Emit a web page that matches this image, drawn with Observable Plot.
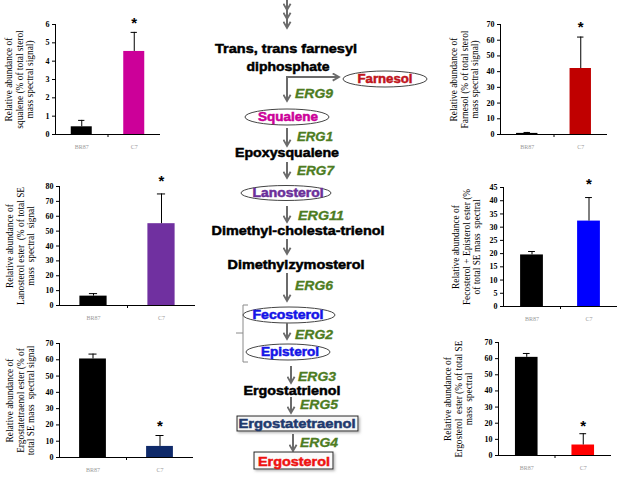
<!DOCTYPE html>
<html>
<head>
<meta charset="utf-8">
<script src="https://cdn.jsdelivr.net/npm/d3@7"></script>
<script src="https://cdn.jsdelivr.net/npm/@observablehq/plot@0.6"></script>
<style>
  html, body { margin: 0; padding: 0; background: #fff; }
  #wrap { position: relative; width: 624px; height: 478px; overflow: hidden; background: #fff; }
  #wrap > svg, #wrap > figure { position: absolute; margin: 0; }
</style>
</head>
<body>
<div id="wrap"></div>
<script>
// ---------------- data ----------------
const groups = ["BR87", "C7"];

const squaleneValues = [0.42, 4.53];
const squaleneErrors = [0.35, 1.04];
const farnesolValues = [0.7, 42];
const farnesolErrors = [0.6, 20];
const lanosterolEsterValues = [6.3, 55];
const lanosterolEsterErrors = [1.7, 20];
const fecoEpiEsterValues = [19.5, 32.3];
const fecoEpiEsterErrors = [1.3, 8.9];
const ergostatetraenolEsterValues = [60.5, 6.8];
const ergostatetraenolEsterErrors = [3.0, 6.7];
const ergosterolEsterValues = [60.8, 6.5];
const ergosterolEsterErrors = [2.4, 7.0];
const significant = [false, true];

const squaleneTicks = [0, 1, 2, 3, 4, 5, 6];
const farnesolTicks = [0, 10, 20, 30, 40, 50, 60, 70];
const lanosterolTicks = [0, 10, 20, 30, 40, 50, 60, 70, 80];
const fecoEpiTicks = [0, 5, 10, 15, 20, 25, 30, 35, 40, 45];
const ergostatetraenolTicks = [0, 10, 20, 30, 40, 50, 60, 70];
const ergosterolTicks = [0, 10, 20, 30, 40, 50, 60, 70];

const squaleneLabel = "Relative abundance of\nsqualene (% of total sterol\nmass spectral signal)";
const farnesolLabel = "Relative abundance of\nFarnesol (% of total sterol\nmass spectral signal)";
const lanosterolLabel = "Relative abundance of\nLanosterol ester  (% of total SE\nmass  spectral  signal";
const fecoEpiLabel = "Relative abundance of\nFecosterol + Episterol ester (%\nof total SE mass  spectral";
const ergostatetraenolLabel = "Relative abundance of\nErgostatetraenol ester (% of\ntotal SE mass  spectral signal";
const ergosterolLabel = "Relative abundance of\nErgosterol  ester (% of total SE\nmass  spectral";

// ---------------- small bar charts ----------------
const wrap = document.getElementById("wrap");

function barChart(cfg) {
  const data = groups.map((g, k) => ({
    g, i: k + 1, v: cfg.values[k], top: cfg.values[k] + cfg.errors[k],
    star: significant[k], fill: cfg.colors[k]
  }));
  const max = cfg.ticks[cfg.ticks.length - 1];
  const mL = 62, mT = 22, mB = 22, mR = 4;
  const h = cfg.zero - cfg.yTop;
  const w = cfg.right - cfg.axisX;
  const hw = 0.2;
  const serif = "Liberation Serif, Times New Roman, serif";
  const p = Plot.plot({
    width: mL + w + mR,
    height: mT + h + mB,
    marginLeft: mL, marginTop: mT, marginBottom: mB, marginRight: mR,
    style: {fontFamily: serif, background: "transparent", overflow: "visible"},
    x: {domain: [0.5, 2.5], axis: null},
    y: {domain: [0, max], axis: null},
    color: {type: "identity"},
    marks: [
      Plot.rectY(data, {x1: d => d.i - hw, x2: d => d.i + hw, y: "v", fill: "fill"}),
      Plot.ruleX(data, {x: "i", y1: "v", y2: "top", stroke: "#000", strokeWidth: 1}),
      Plot.ruleY(data, {y: "top", x1: d => d.i - 0.06, x2: d => d.i + 0.06, stroke: "#000", strokeWidth: 1}),
      Plot.text(data.filter(d => d.star), {x: "i", y: "top", text: () => "*", dy: -cfg.starDy, fontSize: 15, fontWeight: "bold", fontFamily: "Liberation Sans, Arial, sans-serif"}),
      Plot.ruleY([0], {stroke: "#000"}),
      Plot.ruleX([0.5], {y1: 0, y2: max, stroke: "#000"}),
      Plot.axisY({ticks: cfg.ticks, tickFormat: d => String(d), tickSize: 3, tickPadding: 3, fontSize: 8, fontWeight: "bold", label: null}),
      Plot.axisX({ticks: [1.5], tickSize: 3, tickFormat: () => "", label: null}),
      Plot.text(data, {x: "i", y: 0, text: "g", dy: 13, fontSize: 6, fill: "#9a9a9a"}),
      Plot.text([cfg.label], {frameAnchor: "left", text: d => d, rotate: -90, dx: cfg.labelDx,
        fontSize: 9.4, lineHeight: 1.1, textAnchor: "middle", lineAnchor: "middle"})
    ]
  });
  p.style.left = (cfg.axisX - mL) + "px";
  p.style.top = (cfg.yTop - mT) + "px";
  wrap.appendChild(p);
}

barChart({values: squaleneValues, errors: squaleneErrors, ticks: squaleneTicks, colors: ["#000000", "#cc0099"],
  label: squaleneLabel, axisX: 55, yTop: 24, zero: 134, right: 160, labelDx: -36, starDy: 9});
barChart({values: farnesolValues, errors: farnesolErrors, ticks: farnesolTicks, colors: ["#000000", "#c00000"],
  label: farnesolLabel, axisX: 500, yTop: 24, zero: 134, right: 607, labelDx: -36, starDy: 10});
barChart({values: lanosterolEsterValues, errors: lanosterolEsterErrors, ticks: lanosterolTicks, colors: ["#000000", "#7030a0"],
  label: lanosterolLabel, axisX: 59, yTop: 186, zero: 305, right: 195, labelDx: -39, starDy: 13});
barChart({values: fecoEpiEsterValues, errors: fecoEpiEsterErrors, ticks: fecoEpiTicks, colors: ["#000000", "#0000ff"],
  label: fecoEpiLabel, axisX: 503, yTop: 187, zero: 306, right: 617, labelDx: -37, starDy: 13});
barChart({values: ergostatetraenolEsterValues, errors: ergostatetraenolEsterErrors, ticks: ergostatetraenolTicks, colors: ["#000000", "#0f2a6a"],
  label: ergostatetraenolLabel, axisX: 59, yTop: 343, zero: 457, right: 193, labelDx: -39, starDy: 9});
barChart({values: ergosterolEsterValues, errors: ergosterolEsterErrors, ticks: ergosterolTicks, colors: ["#000000", "#ff0000"],
  label: ergosterolLabel, axisX: 498, yTop: 342, zero: 455, right: 611, labelDx: -40, starDy: 8});

// ---------------- pathway schematic ----------------
const G = "#4d7c22";
const sans = "Liberation Sans, Arial, Helvetica, sans-serif";
function txt(x, y, s, fill, size, len, extra = "") {
  return `<text x="${x}" y="${y}" fill="${fill}" stroke="${fill}" stroke-width="0.5" font-size="${size}" font-weight="bold" font-family="${sans}" text-anchor="middle" dominant-baseline="central" ${len ? `textLength="${len}" lengthAdjust="spacingAndGlyphs"` : ""} ${extra}>${s}</text>`;
}
function erg(x, y, s, len) {
  return `<text x="${x}" y="${y}" fill="${G}" stroke="${G}" stroke-width="0.3" font-size="12.5" font-weight="bold" font-style="italic" font-family="${sans}" dominant-baseline="central" textLength="${len}" lengthAdjust="spacingAndGlyphs">${s}</text>`;
}
function arrow(x, y1, y2) {
  return `<line x1="${x}" y1="${y1}" x2="${x}" y2="${y2}" stroke="#6b6b6b" stroke-width="2" marker-end="url(#ah)"/>`;
}
let s = `<svg width="624" height="478" style="left:0;top:0;pointer-events:none" xmlns="http://www.w3.org/2000/svg">
<defs>
<marker id="ah" viewBox="0 0 10 10" refX="8" refY="5" markerWidth="9" markerHeight="9" markerUnits="userSpaceOnUse" orient="auto">
<path d="M1,1 L8,5 L1,9" fill="none" stroke="#6b6b6b" stroke-width="2"/>
</marker>
<filter id="sh" x="-10%" y="-30%" width="130%" height="170%"><feDropShadow dx="1.5" dy="1.5" stdDeviation="1" flood-color="#999" flood-opacity="0.7"/></filter>
</defs>`;
s += arrow(287, 0, 10) + arrow(287, 9, 19) + arrow(287, 18, 28);
s += txt(286, 48, "Trans, trans farnesyl", "#000", 13, 142);
s += txt(288, 66, "diphosphate", "#000", 13, 83);
s += `<path d="M287,77 H339" fill="none" stroke="#6b6b6b" stroke-width="2" marker-end="url(#ah)"/>`;
s += arrow(287, 76, 101);
s += `<ellipse cx="385" cy="79" rx="42" ry="8" fill="#fff" stroke="#444" stroke-width="1"/>`;
s += txt(385, 79, "Farnesol", "#c0141c", 12, 55);
s += erg(295, 94, "ERG9", 38);
s += `<ellipse cx="287" cy="117" rx="42" ry="8" fill="#fff" stroke="#444" stroke-width="1"/>`;
s += txt(288, 117, "Squalene", "#cc0099", 12, 60);
s += arrow(287, 128, 146);
s += erg(297, 137, "ERG1", 36);
s += txt(287, 152, "Epoxysqualene", "#000", 13, 104);
s += arrow(287, 162, 178);
s += erg(297, 171, "ERG7", 37);
s += `<ellipse cx="286" cy="193" rx="45" ry="7.5" fill="#fff" stroke="#444" stroke-width="1"/>`;
s += txt(288, 193, "Lanosterol", "#6b2f9a", 12, 71);
s += arrow(287, 206, 222);
s += erg(298, 215.5, "ERG11", 46);
s += txt(298, 230, "Dimethyl-cholesta-trienol", "#000", 13, 173);
s += arrow(287, 239, 254);
s += txt(296, 264, "Dimethylzymosterol", "#000", 13, 137);
s += arrow(287, 273, 301);
s += erg(295, 286, "ERG6", 38);
s += `<path d="M248,305 H243 V362 H248 M243,333 H236" fill="none" stroke="#8a8a8a" stroke-width="1"/>`;
s += `<ellipse cx="289" cy="315" rx="46" ry="8" fill="#fff" stroke="#444" stroke-width="1"/>`;
s += txt(288, 315, "Fecosterol", "#1414e6", 12, 71);
s += arrow(287, 323, 339);
s += erg(295, 335, "ERG2", 38);
s += `<ellipse cx="288" cy="352" rx="42" ry="8" fill="#fff" stroke="#444" stroke-width="1"/>`;
s += txt(290, 352, "Episterol", "#1414e6", 12, 58);
s += arrow(291, 366, 383);
s += erg(298, 377, "ERG3", 38);
s += txt(292, 390, "Ergostatrienol", "#000", 13, 97);
s += arrow(291, 397, 413);
s += erg(300, 405, "ERG5", 38);
s += `<rect x="237" y="416" width="121" height="15" fill="#f6f6f6" stroke="#222" stroke-width="1" filter="url(#sh)"/>`;
s += txt(297, 424, "Ergostatetraenol", "#1f3a6e", 12.5, 117);
s += arrow(293, 434, 451);
s += erg(300, 443, "ERG4", 38);
s += `<rect x="254" y="452" width="79" height="17" fill="#fafafa" stroke="#222" stroke-width="1" filter="url(#sh)"/>`;
s += txt(294, 461, "Ergosterol", "#ee1111", 13, 72);
s += `</svg>`;
wrap.insertAdjacentHTML("beforeend", s);
</script>
</body>
</html>
